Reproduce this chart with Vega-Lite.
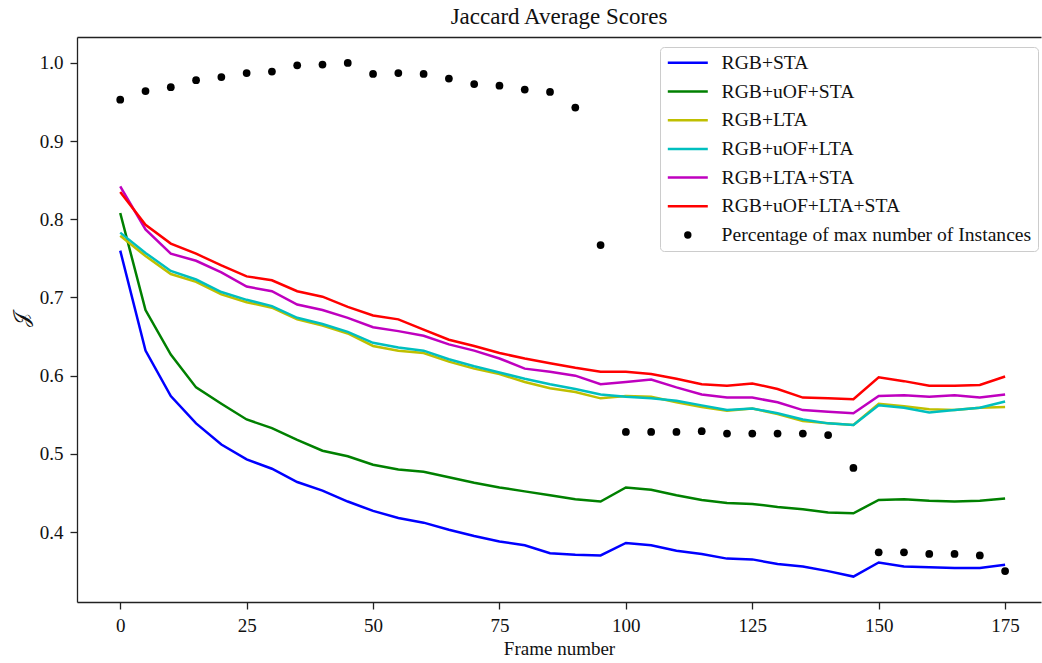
{
  "$schema": "https://vega.github.io/schema/vega-lite/v6.json",
  "width": 964,
  "height": 565,
  "autosize": "none",
  "padding": {"left": 77, "top": 37, "right": 1, "bottom": 61},
  "background": "white",
  "config": {
    "font": "Liberation Serif",
    "view": {"stroke": null},
    "axis": {
      "grid": false,
      "domainColor": "#222222",
      "domainWidth": 1.3,
      "tickColor": "#222222",
      "tickWidth": 1.3,
      "tickSize": 7,
      "labelFont": "Liberation Serif",
      "labelFontSize": 19,
      "labelColor": "#111111",
      "labelPadding": 7,
      "titleFont": "Liberation Serif",
      "titleFontSize": 19,
      "titleFontWeight": "normal",
      "titleColor": "#111111"
    }
  },
  "title": {
    "text": "Jaccard Average Scores",
    "font": "Liberation Serif",
    "fontSize": 23,
    "fontWeight": "normal",
    "color": "#111111",
    "anchor": "middle",
    "offset": 8
  },
  "data": {
    "values": [
      {"frame": 0, "RGB+STA": 0.760, "RGB+uOF+STA": 0.808, "RGB+LTA": 0.779, "RGB+uOF+LTA": 0.783, "RGB+LTA+STA": 0.842, "RGB+uOF+LTA+STA": 0.835, "Percentage of max number of Instances": 0.953},
      {"frame": 5, "RGB+STA": 0.632, "RGB+uOF+STA": 0.684, "RGB+LTA": 0.753, "RGB+uOF+LTA": 0.757, "RGB+LTA+STA": 0.787, "RGB+uOF+LTA+STA": 0.793, "Percentage of max number of Instances": 0.964},
      {"frame": 10, "RGB+STA": 0.574, "RGB+uOF+STA": 0.627, "RGB+LTA": 0.730, "RGB+uOF+LTA": 0.734, "RGB+LTA+STA": 0.756, "RGB+uOF+LTA+STA": 0.769, "Percentage of max number of Instances": 0.969},
      {"frame": 15, "RGB+STA": 0.539, "RGB+uOF+STA": 0.585, "RGB+LTA": 0.720, "RGB+uOF+LTA": 0.723, "RGB+LTA+STA": 0.747, "RGB+uOF+LTA+STA": 0.756, "Percentage of max number of Instances": 0.978},
      {"frame": 20, "RGB+STA": 0.512, "RGB+uOF+STA": 0.564, "RGB+LTA": 0.704, "RGB+uOF+LTA": 0.707, "RGB+LTA+STA": 0.732, "RGB+uOF+LTA+STA": 0.741, "Percentage of max number of Instances": 0.982},
      {"frame": 25, "RGB+STA": 0.493, "RGB+uOF+STA": 0.544, "RGB+LTA": 0.694, "RGB+uOF+LTA": 0.697, "RGB+LTA+STA": 0.714, "RGB+uOF+LTA+STA": 0.727, "Percentage of max number of Instances": 0.987},
      {"frame": 30, "RGB+STA": 0.481, "RGB+uOF+STA": 0.533, "RGB+LTA": 0.687, "RGB+uOF+LTA": 0.689, "RGB+LTA+STA": 0.708, "RGB+uOF+LTA+STA": 0.722, "Percentage of max number of Instances": 0.989},
      {"frame": 35, "RGB+STA": 0.464, "RGB+uOF+STA": 0.518, "RGB+LTA": 0.672, "RGB+uOF+LTA": 0.674, "RGB+LTA+STA": 0.691, "RGB+uOF+LTA+STA": 0.708, "Percentage of max number of Instances": 0.997},
      {"frame": 40, "RGB+STA": 0.453, "RGB+uOF+STA": 0.504, "RGB+LTA": 0.664, "RGB+uOF+LTA": 0.666, "RGB+LTA+STA": 0.684, "RGB+uOF+LTA+STA": 0.701, "Percentage of max number of Instances": 0.998},
      {"frame": 45, "RGB+STA": 0.439, "RGB+uOF+STA": 0.497, "RGB+LTA": 0.654, "RGB+uOF+LTA": 0.656, "RGB+LTA+STA": 0.674, "RGB+uOF+LTA+STA": 0.688, "Percentage of max number of Instances": 1.000},
      {"frame": 50, "RGB+STA": 0.427, "RGB+uOF+STA": 0.486, "RGB+LTA": 0.638, "RGB+uOF+LTA": 0.642, "RGB+LTA+STA": 0.662, "RGB+uOF+LTA+STA": 0.677, "Percentage of max number of Instances": 0.986},
      {"frame": 55, "RGB+STA": 0.418, "RGB+uOF+STA": 0.480, "RGB+LTA": 0.632, "RGB+uOF+LTA": 0.636, "RGB+LTA+STA": 0.657, "RGB+uOF+LTA+STA": 0.672, "Percentage of max number of Instances": 0.987},
      {"frame": 60, "RGB+STA": 0.412, "RGB+uOF+STA": 0.477, "RGB+LTA": 0.629, "RGB+uOF+LTA": 0.632, "RGB+LTA+STA": 0.651, "RGB+uOF+LTA+STA": 0.659, "Percentage of max number of Instances": 0.986},
      {"frame": 65, "RGB+STA": 0.403, "RGB+uOF+STA": 0.470, "RGB+LTA": 0.618, "RGB+uOF+LTA": 0.621, "RGB+LTA+STA": 0.640, "RGB+uOF+LTA+STA": 0.646, "Percentage of max number of Instances": 0.980},
      {"frame": 70, "RGB+STA": 0.395, "RGB+uOF+STA": 0.463, "RGB+LTA": 0.609, "RGB+uOF+LTA": 0.612, "RGB+LTA+STA": 0.632, "RGB+uOF+LTA+STA": 0.638, "Percentage of max number of Instances": 0.973},
      {"frame": 75, "RGB+STA": 0.388, "RGB+uOF+STA": 0.457, "RGB+LTA": 0.602, "RGB+uOF+LTA": 0.604, "RGB+LTA+STA": 0.622, "RGB+uOF+LTA+STA": 0.629, "Percentage of max number of Instances": 0.971},
      {"frame": 80, "RGB+STA": 0.383, "RGB+uOF+STA": 0.452, "RGB+LTA": 0.592, "RGB+uOF+LTA": 0.596, "RGB+LTA+STA": 0.609, "RGB+uOF+LTA+STA": 0.622, "Percentage of max number of Instances": 0.966},
      {"frame": 85, "RGB+STA": 0.373, "RGB+uOF+STA": 0.447, "RGB+LTA": 0.584, "RGB+uOF+LTA": 0.589, "RGB+LTA+STA": 0.605, "RGB+uOF+LTA+STA": 0.616, "Percentage of max number of Instances": 0.963},
      {"frame": 90, "RGB+STA": 0.371, "RGB+uOF+STA": 0.442, "RGB+LTA": 0.579, "RGB+uOF+LTA": 0.583, "RGB+LTA+STA": 0.600, "RGB+uOF+LTA+STA": 0.610, "Percentage of max number of Instances": 0.943},
      {"frame": 95, "RGB+STA": 0.370, "RGB+uOF+STA": 0.439, "RGB+LTA": 0.571, "RGB+uOF+LTA": 0.576, "RGB+LTA+STA": 0.589, "RGB+uOF+LTA+STA": 0.605, "Percentage of max number of Instances": 0.767},
      {"frame": 100, "RGB+STA": 0.386, "RGB+uOF+STA": 0.457, "RGB+LTA": 0.574, "RGB+uOF+LTA": 0.573, "RGB+LTA+STA": 0.592, "RGB+uOF+LTA+STA": 0.605, "Percentage of max number of Instances": 0.528},
      {"frame": 105, "RGB+STA": 0.383, "RGB+uOF+STA": 0.454, "RGB+LTA": 0.573, "RGB+uOF+LTA": 0.571, "RGB+LTA+STA": 0.595, "RGB+uOF+LTA+STA": 0.602, "Percentage of max number of Instances": 0.528},
      {"frame": 110, "RGB+STA": 0.376, "RGB+uOF+STA": 0.447, "RGB+LTA": 0.566, "RGB+uOF+LTA": 0.568, "RGB+LTA+STA": 0.585, "RGB+uOF+LTA+STA": 0.596, "Percentage of max number of Instances": 0.528},
      {"frame": 115, "RGB+STA": 0.372, "RGB+uOF+STA": 0.441, "RGB+LTA": 0.560, "RGB+uOF+LTA": 0.562, "RGB+LTA+STA": 0.576, "RGB+uOF+LTA+STA": 0.589, "Percentage of max number of Instances": 0.529},
      {"frame": 120, "RGB+STA": 0.366, "RGB+uOF+STA": 0.437, "RGB+LTA": 0.555, "RGB+uOF+LTA": 0.556, "RGB+LTA+STA": 0.572, "RGB+uOF+LTA+STA": 0.587, "Percentage of max number of Instances": 0.526},
      {"frame": 125, "RGB+STA": 0.365, "RGB+uOF+STA": 0.436, "RGB+LTA": 0.558, "RGB+uOF+LTA": 0.558, "RGB+LTA+STA": 0.572, "RGB+uOF+LTA+STA": 0.590, "Percentage of max number of Instances": 0.526},
      {"frame": 130, "RGB+STA": 0.359, "RGB+uOF+STA": 0.432, "RGB+LTA": 0.551, "RGB+uOF+LTA": 0.552, "RGB+LTA+STA": 0.566, "RGB+uOF+LTA+STA": 0.583, "Percentage of max number of Instances": 0.526},
      {"frame": 135, "RGB+STA": 0.356, "RGB+uOF+STA": 0.429, "RGB+LTA": 0.542, "RGB+uOF+LTA": 0.544, "RGB+LTA+STA": 0.556, "RGB+uOF+LTA+STA": 0.572, "Percentage of max number of Instances": 0.526},
      {"frame": 140, "RGB+STA": 0.350, "RGB+uOF+STA": 0.425, "RGB+LTA": 0.539, "RGB+uOF+LTA": 0.539, "RGB+LTA+STA": 0.554, "RGB+uOF+LTA+STA": 0.571, "Percentage of max number of Instances": 0.524},
      {"frame": 145, "RGB+STA": 0.343, "RGB+uOF+STA": 0.424, "RGB+LTA": 0.537, "RGB+uOF+LTA": 0.537, "RGB+LTA+STA": 0.552, "RGB+uOF+LTA+STA": 0.570, "Percentage of max number of Instances": 0.482},
      {"frame": 150, "RGB+STA": 0.361, "RGB+uOF+STA": 0.441, "RGB+LTA": 0.564, "RGB+uOF+LTA": 0.562, "RGB+LTA+STA": 0.574, "RGB+uOF+LTA+STA": 0.598, "Percentage of max number of Instances": 0.374},
      {"frame": 155, "RGB+STA": 0.356, "RGB+uOF+STA": 0.442, "RGB+LTA": 0.561, "RGB+uOF+LTA": 0.559, "RGB+LTA+STA": 0.575, "RGB+uOF+LTA+STA": 0.593, "Percentage of max number of Instances": 0.374},
      {"frame": 160, "RGB+STA": 0.355, "RGB+uOF+STA": 0.440, "RGB+LTA": 0.557, "RGB+uOF+LTA": 0.553, "RGB+LTA+STA": 0.573, "RGB+uOF+LTA+STA": 0.587, "Percentage of max number of Instances": 0.372},
      {"frame": 165, "RGB+STA": 0.354, "RGB+uOF+STA": 0.439, "RGB+LTA": 0.556, "RGB+uOF+LTA": 0.556, "RGB+LTA+STA": 0.575, "RGB+uOF+LTA+STA": 0.587, "Percentage of max number of Instances": 0.372},
      {"frame": 170, "RGB+STA": 0.354, "RGB+uOF+STA": 0.440, "RGB+LTA": 0.559, "RGB+uOF+LTA": 0.559, "RGB+LTA+STA": 0.572, "RGB+uOF+LTA+STA": 0.588, "Percentage of max number of Instances": 0.370},
      {"frame": 175, "RGB+STA": 0.358, "RGB+uOF+STA": 0.443, "RGB+LTA": 0.560, "RGB+uOF+LTA": 0.567, "RGB+LTA+STA": 0.576, "RGB+uOF+LTA+STA": 0.599, "Percentage of max number of Instances": 0.350}
    ]
  },
  "transform": [
    {"fold": ["RGB+STA", "RGB+uOF+STA", "RGB+LTA", "RGB+uOF+LTA", "RGB+LTA+STA", "RGB+uOF+LTA+STA", "Percentage of max number of Instances"], "as": ["series", "score"]}
  ],
  "encoding": {
    "y": {
      "field": "score",
      "type": "quantitative",
      "scale": {"domain": [0.3105, 1.0332], "nice": false, "zero": false},
      "axis": {
        "values": [0.4, 0.5, 0.6, 0.7, 0.8, 0.9, 1.0],
        "format": ".1f",
        "title": "𝒥",
        "titleFontSize": 21,
        "titlePadding": 8
      }
    },
    "color": {
      "field": "series",
      "type": "nominal",
      "scale": {
        "domain": ["RGB+STA", "RGB+uOF+STA", "RGB+LTA", "RGB+uOF+LTA", "RGB+LTA+STA", "RGB+uOF+LTA+STA", "Percentage of max number of Instances"],
        "range": ["#0000ff", "#008000", "#bfbf00", "#00bfbf", "#bf00bf", "#ff0000", "#000000"]
      },
      "legend": {
        "title": null,
        "orient": "none",
        "legendX": 583,
        "legendY": 10,
        "padding": 6,
        "strokeColor": "#cccccc",
        "fillColor": "white",
        "cornerRadius": 4,
        "labelFont": "Liberation Serif",
        "labelFontSize": 19.6,
        "labelColor": "#111111",
        "labelLimit": 0,
        "symbolType": "M-2,0H2",
        "symbolSize": 400,
        "symbolOffset": 12,
        "labelOffset": 24,
        "rowPadding": 7.7,
        "symbolOpacity": 1,
        "encode": {
          "symbols": {
            "update": {
              "shape": {"signal": "datum.value === 'Percentage of max number of Instances' ? 'circle' : 'M-2,0H2'"},
              "size": {"signal": "datum.value === 'Percentage of max number of Instances' ? 55 : 400"},
              "fill": {"signal": "datum.value === 'Percentage of max number of Instances' ? '#000000' : 'transparent'"},
              "strokeWidth": {"signal": "datum.value === 'Percentage of max number of Instances' ? 0 : 2.5"},
              "stroke": {"scale": "color", "field": "value"},
              "opacity": {"value": 1}
            }
          }
        }
      }
    }
  },
  "layer": [
    {
      "transform": [{"filter": "datum.series !== 'Percentage of max number of Instances'"}],
      "mark": {"type": "line", "strokeWidth": 2.5},
      "encoding": {
        "x": {
          "field": "frame",
          "type": "quantitative",
          "scale": {"domain": [-8.55, 182.1], "nice": false, "zero": false},
          "axis": {
            "orient": "bottom",
            "values": [0, 25, 50, 75, 100, 125, 150, 175],
            "title": "Frame number",
            "titlePadding": 4
          }
        }
      }
    },
    {
      "transform": [{"filter": "datum.series === 'Percentage of max number of Instances'"}],
      "mark": {"type": "point", "filled": true, "size": 60, "opacity": 1, "strokeWidth": 0},
      "encoding": {
        "x": {
          "field": "frame",
          "type": "quantitative",
          "axis": {"orient": "top", "labels": false, "ticks": false, "title": null, "domain": true}
        }
      }
    }
  ],
  "resolve": {"axis": {"x": "independent"}}
}
